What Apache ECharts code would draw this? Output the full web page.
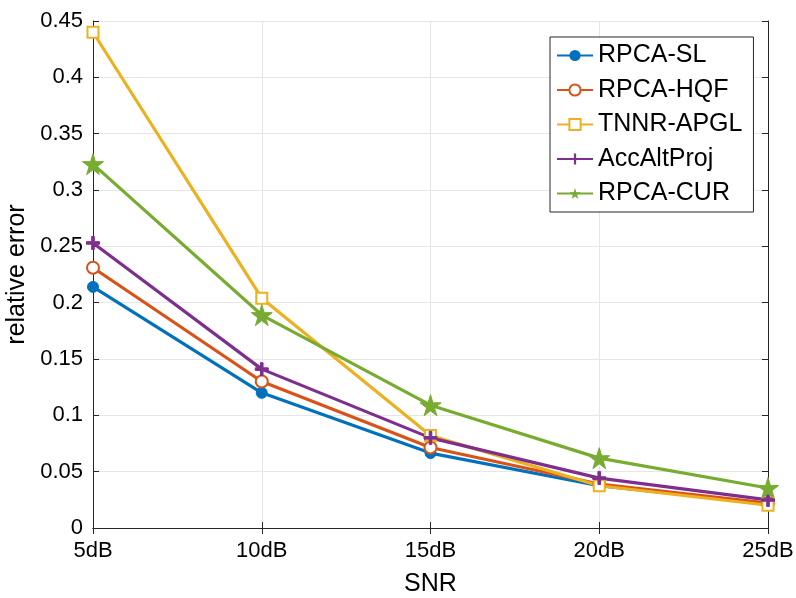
<!DOCTYPE html>
<html>
<head>
<meta charset="utf-8">
<script src="https://cdn.jsdelivr.net/npm/echarts@6/dist/echarts.min.js"></script>
<style>html,body{margin:0;padding:0;background:#fff;}#c{width:796px;height:598px;}</style>
</head>
<body>
<div id="c"></div>
<script>
const categories = ['5dB', '10dB', '15dB', '20dB', '25dB'];
const rpcaSL   = [0.214, 0.120, 0.0665, 0.0375, 0.0215];
const rpcaHQF  = [0.231, 0.130, 0.0715, 0.039, 0.0222];
const tnnrAPGL = [0.440, 0.204, 0.082, 0.0375, 0.0202];
const accAlt   = [0.253, 0.141, 0.080, 0.0443, 0.0249];
const rpcaCUR  = [0.323, 0.189, 0.109, 0.062, 0.0355];
const seriesNames = ['RPCA-SL', 'RPCA-HQF', 'TNNR-APGL', 'AccAltProj', 'RPCA-CUR'];

const FONT = 'Liberation Sans, Arial, Helvetica, sans-serif';
const AX = '#262626';
const PLUS = 'path://M4,0 H6 V4 H10 V6 H6 V10 H4 V6 H0 V4 H4 Z';
const STAR = 'path://M50,0 L61,35 L98,35 L68,57 L79,91 L50,70 L21,91 L32,57 L2,35 L39,35 Z';

function mk(name, data, color, symbol, size, extraItem) {
  return {
    name: name, type: 'line', data: data,
    symbol: symbol, symbolSize: size,
    lineStyle: { color: color, width: 3.2 },
    itemStyle: Object.assign({ color: color, borderColor: color }, extraItem || {}),
    animation: false
  };
}

const chart = echarts.init(document.getElementById('c'), null, { renderer: 'canvas' });
chart.setOption({
  backgroundColor: '#fff',
  textStyle: { fontFamily: FONT },
  grid: { left: 93, right: 28, top: 21, bottom: 70, containLabel: false, outerBoundsMode: 'none' },
  legend: {
    orient: 'vertical', left: 550, top: 37,
    padding: [6, 11, 6, 6],
    itemWidth: 36, itemHeight: 14, itemGap: 9.5,
    backgroundColor: '#fff', borderColor: AX, borderWidth: 1,
    textStyle: { fontFamily: FONT, fontSize: 25, color: '#000', lineHeight: 25 },
    data: seriesNames
  },
  xAxis: [{
    type: 'category', data: categories, boundaryGap: false,
    name: 'SNR', nameLocation: 'middle', nameGap: 44,
    nameTextStyle: { fontSize: 25, color: '#000', fontFamily: FONT },
    axisLine: { lineStyle: { color: AX, width: 1 } },
    axisTick: { inside: true, length: 6, lineStyle: { color: AX } },
    axisLabel: { fontSize: 22, color: '#000', margin: 12, fontFamily: FONT },
    splitLine: { show: true, lineStyle: { color: '#e6e6e6', width: 1 } }
  }, {
    type: 'category', data: categories, boundaryGap: false, position: 'top',
    axisLine: { lineStyle: { color: AX, width: 1 } },
    axisTick: { inside: true, length: 6, lineStyle: { color: AX } },
    axisLabel: { show: false }, splitLine: { show: false }
  }],
  yAxis: [{
    type: 'value', min: 0, max: 0.45, interval: 0.05,
    name: 'relative error', nameLocation: 'middle', nameGap: 58,
    nameTextStyle: { fontSize: 25, color: '#000', fontFamily: FONT },
    axisLine: { show: true, lineStyle: { color: AX, width: 1 } },
    axisTick: { show: true, inside: true, length: 6, lineStyle: { color: AX } },
    axisLabel: { fontSize: 22, color: '#000', margin: 10, fontFamily: FONT,
      formatter: function (v) { return String(parseFloat(v.toFixed(2))); } },
    splitLine: { show: true, lineStyle: { color: '#e6e6e6', width: 1 } }
  }, {
    type: 'value', min: 0, max: 0.45, interval: 0.05, position: 'right',
    axisLine: { show: true, lineStyle: { color: AX, width: 1 } },
    axisTick: { show: true, inside: true, length: 6, lineStyle: { color: AX } },
    axisLabel: { show: false }, splitLine: { show: false }
  }],
  series: [
    mk('RPCA-SL', rpcaSL, '#0072BD', 'circle', 11),
    mk('RPCA-HQF', rpcaHQF, '#D95319', 'emptyCircle', 12, { borderWidth: 2.5 }),
    mk('TNNR-APGL', tnnrAPGL, '#EDB120', 'emptyRect', 11, { borderWidth: 2.5 }),
    mk('AccAltProj', accAlt, '#7E2F8E', PLUS, 13),
    mk('RPCA-CUR', rpcaCUR, '#77AC30', STAR, 21)
  ]
});
</script>
</body>
</html>
